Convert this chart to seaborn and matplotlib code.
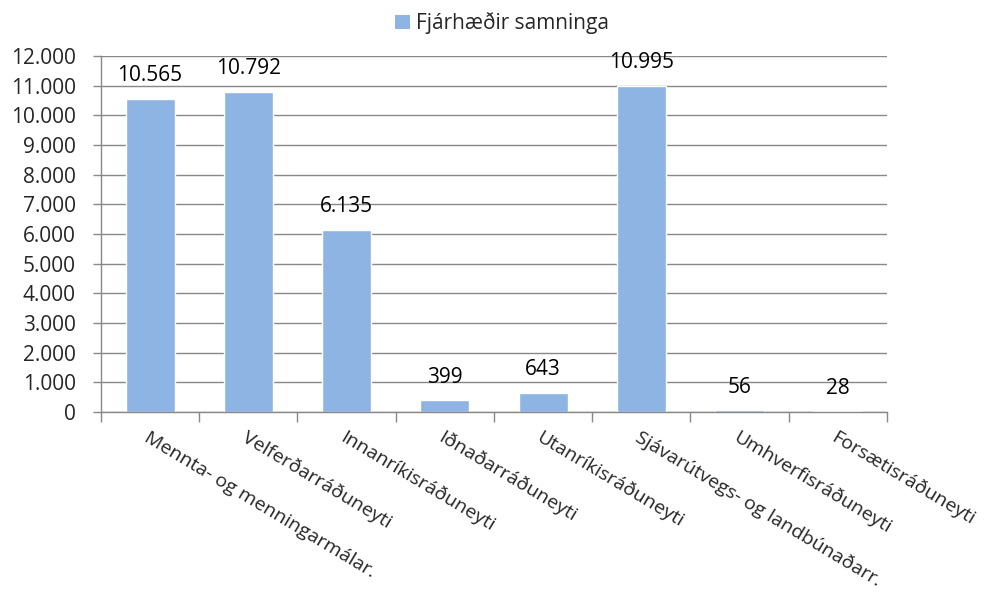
import numpy as np
import pandas as pd
import seaborn as sns
import matplotlib.pyplot as plt
from matplotlib.ticker import FuncFormatter, FixedLocator
from matplotlib.patches import Patch

categories = ['Mennta- og menningarmálar.', 'Velferðarráðuneyti', 'Innanríkisráðuneyti',
              'Iðnaðarráðuneyti', 'Utanríkisráðuneyti', 'Sjávarútvegs- og landbúnaðarr.',
              'Umhverfisráðuneyti', 'Forsætisráðuneyti']
values = [10565, 10792, 6135, 399, 643, 10995, 56, 28]
series_name = 'Fjárhæðir samninga'

BAR = '#8eb4e3'
GRID = '#888888'
FS = 15

sns.set_theme(style='white')
plt.rcParams['font.family'] = ['Open Sans', 'DejaVu Sans']

df = pd.DataFrame({'cat': categories, 'val': values})

fig = plt.figure(figsize=(10.04, 5.97), dpi=100)
ax = fig.add_axes([101 / 1004, 1 - 412 / 597, 786 / 1004, 356 / 597])

sns.barplot(data=df, x='cat', y='val', color=BAR, width=0.5, saturation=1, ax=ax)

def fmt(v, pos=None):
    return f'{int(round(v)):,}'.replace(',', '.')

ax.set_xlim(-0.5, len(categories) - 0.5)
ax.set_ylim(0, 12000)
ax.set_yticks(np.arange(0, 12001, 1000))
ax.yaxis.set_major_formatter(FuncFormatter(fmt))
ax.yaxis.grid(True, color=GRID, linewidth=1)
ax.set_axisbelow(True)
ax.set_xlabel('')
ax.set_ylabel('')

for s in ['top', 'right']:
    ax.spines[s].set_visible(False)
for s in ['left', 'bottom']:
    ax.spines[s].set_color(GRID)
    ax.spines[s].set_linewidth(1)

ax.tick_params(axis='y', which='major', length=6, color=GRID, width=1, labelsize=FS, pad=12, left=True)
ax.tick_params(axis='x', which='major', length=0, labelsize=14, pad=12)
ax.xaxis.set_minor_locator(FixedLocator(np.arange(-0.5, len(categories), 1.0)))
ax.tick_params(axis='x', which='minor', length=7, color=GRID, width=1, bottom=True)
ax.set_xticks(range(len(categories)))
ax.set_xticklabels(categories, rotation=-31, ha='left', va='top', rotation_mode='anchor')

for i, v in enumerate(values):
    ax.annotate(fmt(v), (i, v), xytext=(0, 9), textcoords='offset points',
                ha='center', va='bottom', fontsize=FS, color='black')

fig.legend(handles=[Patch(facecolor=BAR, edgecolor='none', label=series_name)],
           loc='upper center', bbox_to_anchor=(0.5, 1.0), frameon=False, fontsize=FS,
           handlelength=0.7, handleheight=0.7, handletextpad=0.3, borderaxespad=0.2)

fig.savefig('out.png', dpi=100, facecolor='white')
